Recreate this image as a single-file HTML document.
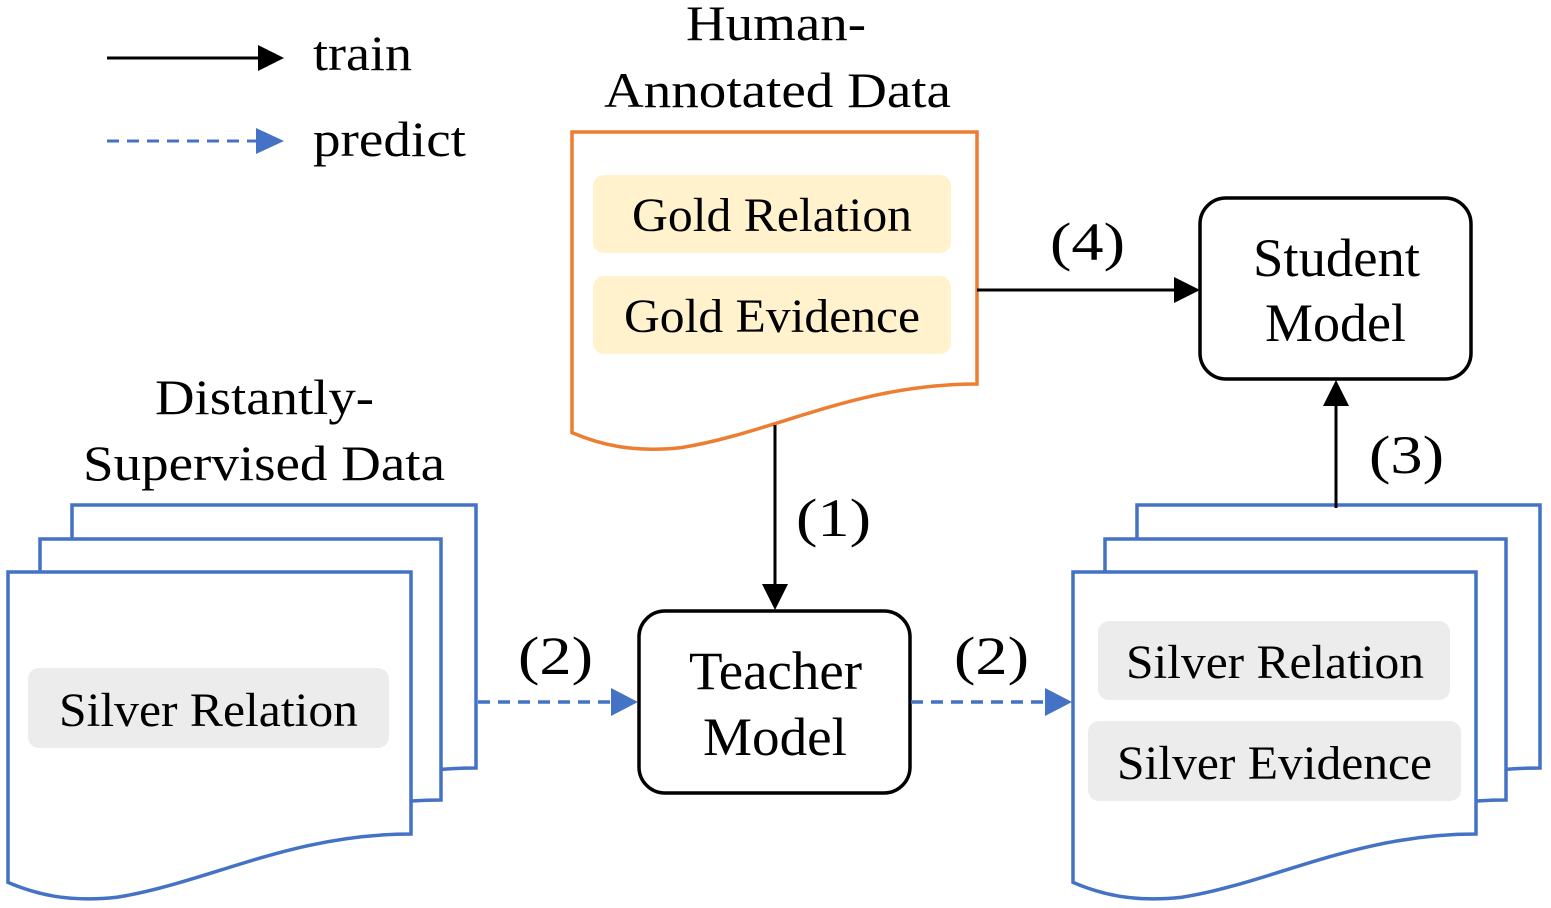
<!DOCTYPE html>
<html><head><meta charset="utf-8"><style>
html,body{margin:0;padding:0;background:#fff;}
svg{display:block;}
text{font-family:"Liberation Serif","Times New Roman",serif;fill:#000;}
</style></head><body>
<svg id="s" width="1551" height="908" viewBox="0 0 1551 908" xmlns="http://www.w3.org/2000/svg">
<g id="docs"></g>
<!-- legend -->
<line x1="107" y1="58" x2="262" y2="58" stroke="#000" stroke-width="3"/>
<path d="M258,45 L284,58 L258,71 z" fill="#000"/>
<text x="313" y="70" font-size="50" textLength="99" lengthAdjust="spacingAndGlyphs">train</text>
<line x1="107" y1="141" x2="260" y2="141" stroke="#4472c4" stroke-width="3" stroke-dasharray="12,8"/>
<path d="M256,128 L284,141 L256,154 z" fill="#4472c4"/>
<text x="313" y="156" font-size="50" textLength="153" lengthAdjust="spacingAndGlyphs">predict</text>
<!-- titles -->
<text x="686" y="40" font-size="50" textLength="180" lengthAdjust="spacingAndGlyphs">Human-</text>
<text x="604" y="107" font-size="50" textLength="347" lengthAdjust="spacingAndGlyphs">Annotated Data</text>
<text x="155" y="414" font-size="50" textLength="219" lengthAdjust="spacingAndGlyphs">Distantly-</text>
<text x="83" y="480" font-size="50" textLength="362" lengthAdjust="spacingAndGlyphs">Supervised Data</text>
<!-- gold boxes -->
<rect x="593" y="175" width="358" height="78" rx="11" fill="#fff2cc"/>
<text x="632" y="231" font-size="48" textLength="280" lengthAdjust="spacingAndGlyphs">Gold Relation</text>
<rect x="593" y="276" width="358" height="78" rx="11" fill="#fff2cc"/>
<text x="624" y="332" font-size="48" textLength="296" lengthAdjust="spacingAndGlyphs">Gold Evidence</text>
<!-- silver boxes -->
<rect x="28" y="668" width="361" height="80" rx="11" fill="#ececec"/>
<text x="59" y="726" font-size="48" textLength="299" lengthAdjust="spacingAndGlyphs">Silver Relation</text>
<rect x="1098" y="621" width="352" height="79" rx="11" fill="#ececec"/>
<text x="1126" y="678" font-size="48" textLength="298" lengthAdjust="spacingAndGlyphs">Silver Relation</text>
<rect x="1088" y="721" width="373" height="80" rx="11" fill="#ececec"/>
<text x="1117" y="779" font-size="48" textLength="315" lengthAdjust="spacingAndGlyphs">Silver Evidence</text>
<!-- model boxes -->
<rect x="1200" y="198" width="271" height="181" rx="26" fill="#fff" stroke="#000" stroke-width="3.5"/>
<text x="1253" y="276" font-size="54" textLength="167" lengthAdjust="spacingAndGlyphs">Student</text>
<text x="1265" y="341" font-size="54" textLength="141" lengthAdjust="spacingAndGlyphs">Model</text>
<rect x="639" y="611" width="271" height="182" rx="26" fill="#fff" stroke="#000" stroke-width="3.5"/>
<text x="689" y="689" font-size="54" textLength="173" lengthAdjust="spacingAndGlyphs">Teacher</text>
<text x="703" y="755" font-size="54" textLength="144" lengthAdjust="spacingAndGlyphs">Model</text>
<!-- arrows -->
<line x1="977" y1="290" x2="1178" y2="290" stroke="#000" stroke-width="3"/>
<path d="M1174,277 L1200,290 L1174,303 z" fill="#000"/>
<text x="1050" y="260" font-size="54" textLength="75" lengthAdjust="spacingAndGlyphs">(4)</text>
<line x1="1336" y1="508" x2="1336" y2="402" stroke="#000" stroke-width="3"/>
<path d="M1323,406 L1336,380 L1349,406 z" fill="#000"/>
<text x="1369" y="473" font-size="54" textLength="75" lengthAdjust="spacingAndGlyphs">(3)</text>
<line x1="775" y1="425" x2="775" y2="588" stroke="#000" stroke-width="3"/>
<path d="M762,584 L775,610 L788,584 z" fill="#000"/>
<text x="796" y="536" font-size="54" textLength="75" lengthAdjust="spacingAndGlyphs">(1)</text>
<line x1="478" y1="702" x2="614" y2="702" stroke="#4472c4" stroke-width="3.5" stroke-dasharray="12,8"/>
<path d="M611,688 L638,702 L611,716 z" fill="#4472c4"/>
<text x="518" y="674" font-size="54" textLength="75" lengthAdjust="spacingAndGlyphs">(2)</text>
<line x1="911" y1="702" x2="1047" y2="702" stroke="#4472c4" stroke-width="3.5" stroke-dasharray="12,8"/>
<path d="M1045,688 L1072,702 L1045,716 z" fill="#4472c4"/>
<text x="954" y="674" font-size="54" textLength="75" lengthAdjust="spacingAndGlyphs">(2)</text>
</svg>
<script>
function doc(x1,y1,x2,yb,col){
  var w=x2-x1, yl=yb+0.12*w;
  var d="M"+x1+","+yl+" V"+y1+" H"+x2+" V"+yb+
   " C"+(x2-0.3*w)+","+yb+" "+(x2-0.5*w)+","+(yl+0.0)+" "+(x1+0.27*w)+","+(yl+0.037*w)+
   " C"+(x1+0.15*w)+","+(yl+0.05*w)+" "+(x1+0.07*w)+","+(yl+0.03*w)+" "+x1+","+yl+" Z";
  return '<path d="'+d+'" fill="#fff" stroke="'+col+'" stroke-width="3.5"/>';
}
var b="#4472c4",h="";
h+=doc(72,505,476,768,b)+doc(40,539,441,800,b)+doc(8,572,411,834,b);
h+=doc(1137,505,1540,768,b)+doc(1105,539,1506,800,b)+doc(1073,572,1476,834,b);
h+=doc(572,132,977,384,"#ed7d31");
document.getElementById("docs").innerHTML=h;
</script>
</body></html>
